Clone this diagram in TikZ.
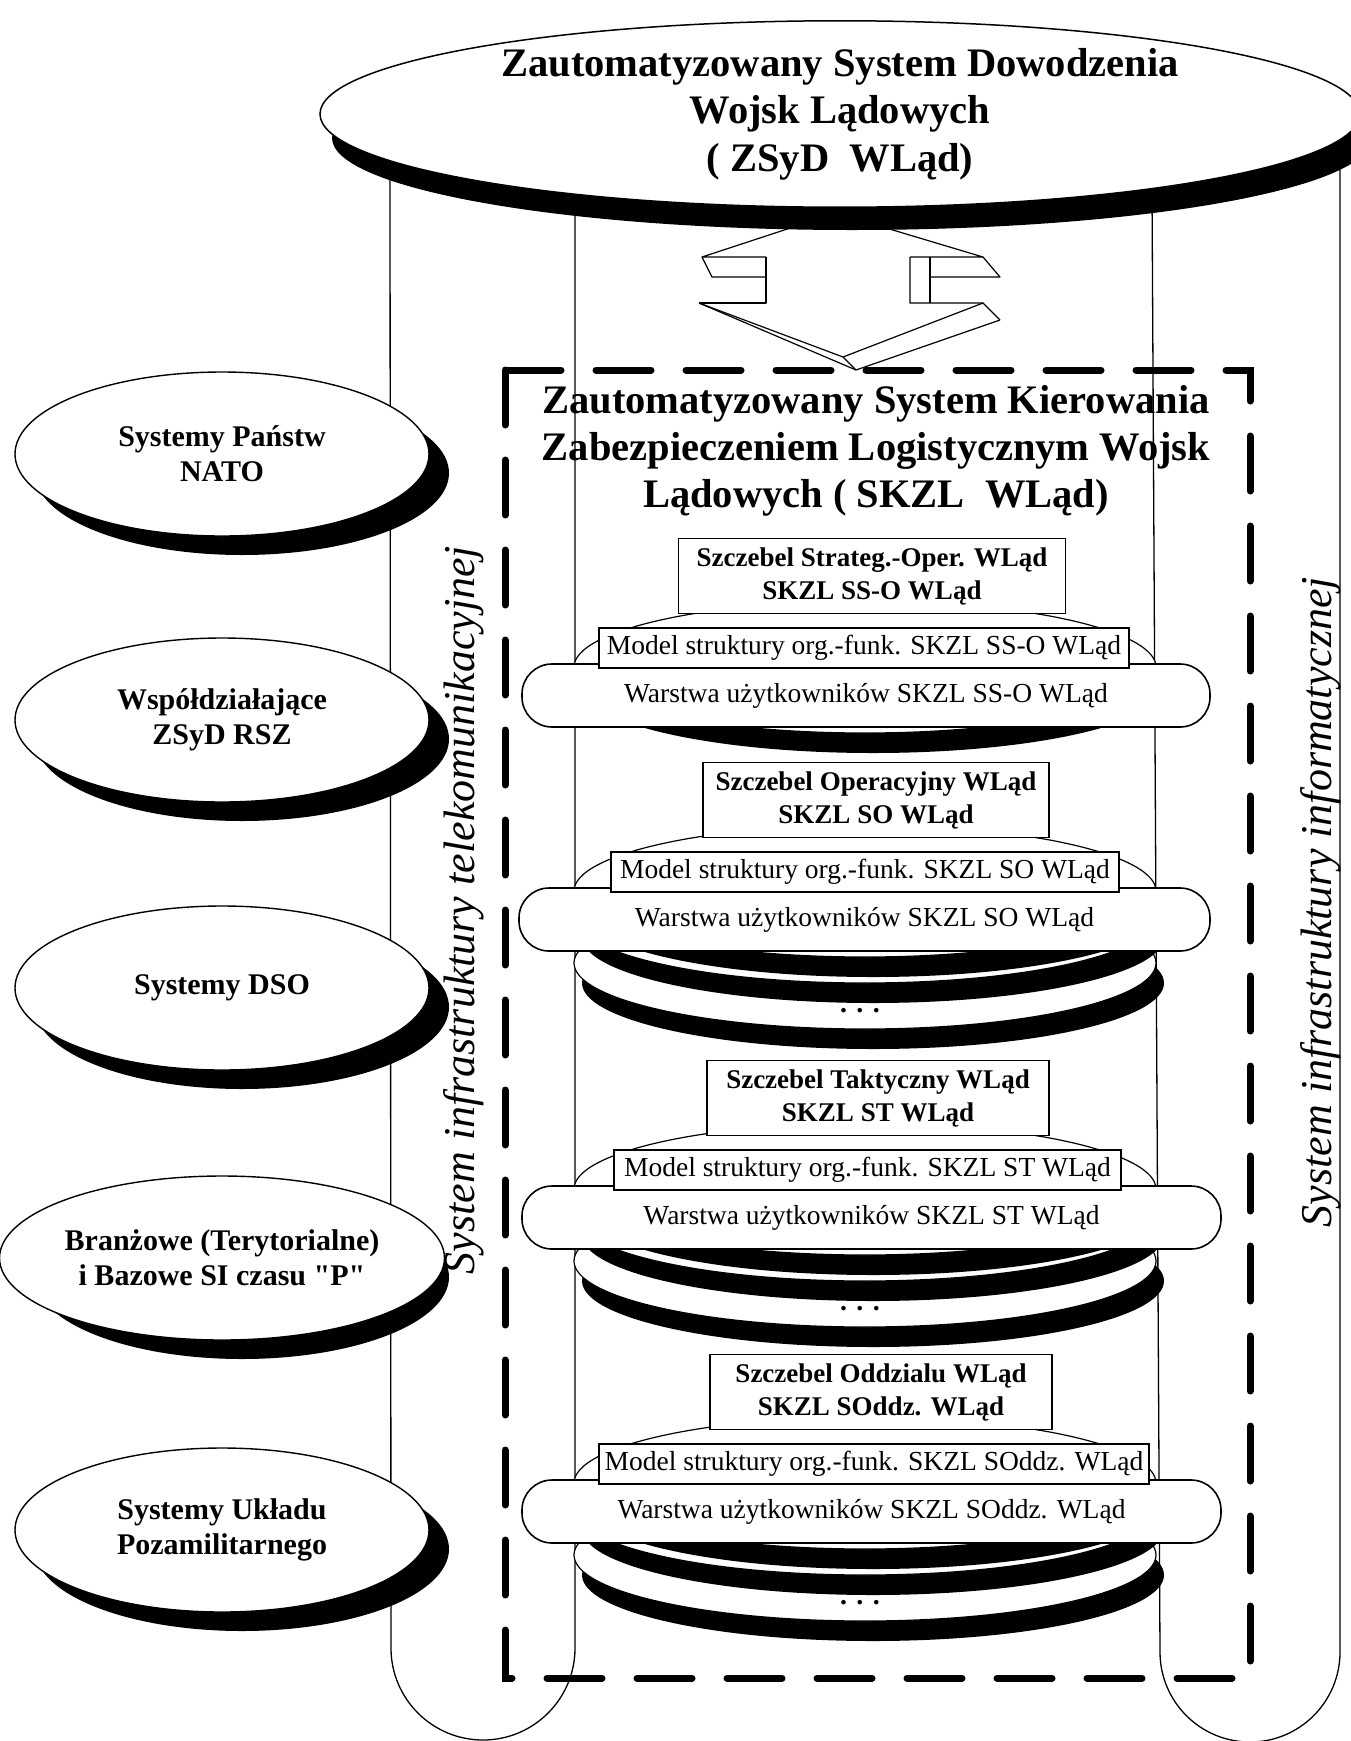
\documentclass[tikz,border=0pt]{standalone}
\usepackage{fontspec}
\setmainfont{Liberation Serif}[Ligatures=TeXOff]
\usetikzlibrary{shapes.geometric}

% one disc of the SKZL stack: black underside, white top face
\newcommand\stackdisc[1]{%
  \fill[black] (873,#1+20) ellipse [x radius=291pt, y radius=66pt];
  \filldraw[fill=white, draw=black, line width=1.2pt] (865,#1) ellipse [x radius=291pt, y radius=66pt];
}

\begin{document}
\begin{tikzpicture}[x=1pt, y=-1pt,
  topsys/.style={ellipse, draw, line width=1.5pt, fill=white, minimum width=1040pt,
    minimum height=184pt, inner sep=0pt, align=center,
    font=\fontsize{40.5}{47.5}\selectfont\bfseries},
  topshadow/.style={ellipse, fill=black, minimum width=1040pt, minimum height=184pt, inner sep=0pt},
  extsys/.style={ellipse, draw, line width=1.4pt, fill=white, minimum width=414pt,
    minimum height=164pt, inner sep=0pt, align=center,
    font=\fontsize{30}{35}\selectfont\bfseries},
  extshadow/.style={ellipse, fill=black, minimum width=414pt, minimum height=164pt, inner sep=0pt},
  levelbox/.style={rectangle, draw, fill=white, line width=1.3pt, minimum height=75pt,
    inner sep=0pt, align=center, font=\fontsize{27}{33}\selectfont\bfseries},
  modelbox/.style={rectangle, draw, fill=white, line width=1.3pt, minimum height=40pt,
    inner sep=0pt, font=\fontsize{27.5}{33}\selectfont},
  userpill/.style={rectangle, draw, fill=white, line width=1.6pt, rounded corners=30pt,
    minimum height=63pt, inner sep=0pt, font=\fontsize{27.5}{33}\selectfont},
  dotsmark/.style={inner sep=0pt, font=\fontsize{28}{30}\selectfont\bfseries},
  tubeline/.style={line width=1.3pt},
  infralabel/.style={rotate=90, inner sep=0pt, font=\fontsize{44}{50}\selectfont\itshape},
  arrowline/.style={line width=1.2pt, line join=round},
]
\useasboundingbox (0,0) rectangle (1351,1741);
\fill[white] (0,0) rectangle (1351,1741);

% infrastructure tubes on both sides of the stack
\draw[tubeline] (390,150) -- (391,1648) arc [start angle=180, end angle=360, radius=92pt] -- (575,190);
\draw[tubeline] (1152,190) -- (1160,1652) arc [start angle=180, end angle=360, radius=90pt] -- (1340,160);

% SKZL boundary
\draw[line width=7pt, line cap=round, dash pattern=on 55pt off 35pt] (505,370) rectangle (1250,1678);

% top-level command system
\node[topshadow] at (852,138) {};
\node[topsys] (zsyd) at (840,114) {Zautomatyzowany System Dowodzenia\\Wojsk Lądowych\\( ZSyD\ \ WLąd)};

% 3-D double arrow between ZSyD and SKZL
\draw[arrowline] (766,257) -- (702,257) -- (836,213) -- (983,257) -- (910,257);
\draw[arrowline] (702,257) -- (712,277) -- (766,277);
\draw[arrowline] (766,257) -- (766,303) -- (699,303);
\draw[arrowline] (910,257) -- (910,303) -- (983,303) -- (1000,320);
\draw[arrowline] (930,257) -- (930,303);
\draw[arrowline] (983,257) -- (1000,277) -- (930,277);
\draw[arrowline] (699,303) -- (843,357) -- (983,303);
\draw[arrowline] (699,303) -- (856,370) -- (1000,320);
\draw[arrowline] (843,357) -- (856,370);

% SKZL title
\node[align=center, inner sep=0pt, font=\fontsize{40.5}{47}\selectfont\bfseries] (skzl) at (876,451)
  {Zautomatyzowany System Kierowania\\Zabezpieczeniem Logistycznym Wojsk\\Lądowych ( SKZL\ \ WLąd)};

% level 1: strategic-operational
\stackdisc{667}
\node[userpill, minimum width=688pt] (pill1) at (866,695.5) {Warstwa użytkowników SKZL SS-O WLąd};
\node[modelbox, minimum width=530pt] (model1) at (864,648) {Model struktury org.-funk. SKZL SS-O WLąd};
\node[levelbox, minimum width=387pt] (lvl1) at (872,576) {Szczebel Strateg.-Oper. WLąd\\SKZL SS-O WLąd};

% level 2: operational
\stackdisc{963}
\node[dotsmark] (dots2) at (860,1011) {. . .};
\stackdisc{917}
\stackdisc{891}
\node[userpill, minimum width=691pt] (pill2) at (864.5,919.5) {Warstwa użytkowników SKZL SO WLąd};
\node[modelbox, minimum width=508pt] (model2) at (865,872) {Model struktury org.-funk. SKZL SO WLąd};
\node[levelbox, minimum width=346pt] (lvl2) at (876,800) {Szczebel Operacyjny WLąd\\SKZL SO WLąd};

% level 3: tactical
\stackdisc{1261}
\node[dotsmark] (dots3) at (860,1309) {. . .};
\stackdisc{1215}
\stackdisc{1189}
\node[userpill, minimum width=699pt] (pill3) at (871.5,1217.5) {Warstwa użytkowników SKZL ST WLąd};
\node[modelbox, minimum width=507pt] (model3) at (867.5,1170) {Model struktury org.-funk. SKZL ST WLąd};
\node[levelbox, minimum width=342pt] (lvl3) at (878,1098) {Szczebel Taktyczny WLąd\\SKZL ST WLąd};

% level 4: unit
\stackdisc{1555}
\node[dotsmark] (dots4) at (860,1603) {. . .};
\stackdisc{1509}
\stackdisc{1483}
\node[userpill, minimum width=699pt] (pill4) at (871.5,1511.5) {Warstwa użytkowników SKZL SOddz. WLąd};
\node[modelbox, minimum width=550pt] (model4) at (874,1464) {Model struktury org.-funk. SKZL SOddz. WLąd};
\node[levelbox, minimum width=342pt] (lvl4) at (881,1392) {Szczebel Oddzialu WLąd\\SKZL SOddz. WLąd};

% cooperating external systems
\foreach \nm/\yy/\txt in {nato/454/{Systemy Państw\\NATO},
                          wspol/720/{Współdziałające\\ZSyD RSZ},
                          dso/988/{Systemy DSO},
                          branz/1258/{Branżowe (Terytorialne)\\i Bazowe SI czasu "P"},
                          pozam/1530/{Systemy Układu\\Pozamilitarnego}} {
  \node[extshadow] at (242,\yy+19) {};
  \node[extsys] (\nm) at (222,\yy) {\txt};
}

% infrastructure labels
\node[infralabel] (tele) at (464,910) {System infrastruktury telekomunikacyjnej};
\node[infralabel] (info) at (1321,902) {System infrastruktury informatycznej};
\end{tikzpicture}
\end{document}
